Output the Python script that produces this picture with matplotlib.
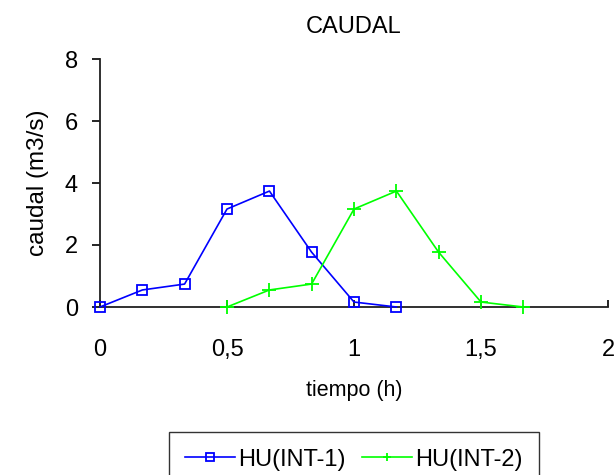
import matplotlib
matplotlib.use("Agg")
import matplotlib.pyplot as plt
from matplotlib.ticker import FuncFormatter

plt.rcParams['font.family'] = ['Liberation Sans', 'DejaVu Sans']

# Hydrograph ordinates (time in hours, flow in m3/s)
t_int1 = [0, 0.167, 0.333, 0.5, 0.667, 0.833, 1.0, 1.167]
q_int1 = [0.0, 0.55, 0.74, 3.16, 3.74, 1.77, 0.16, 0.0]
t_int2 = [0.5, 0.667, 0.833, 1.0, 1.167, 1.333, 1.5, 1.667]
q_int2 = [0.0, 0.55, 0.74, 3.16, 3.74, 1.77, 0.16, 0.0]

x_ticks = [0, 0.5, 1, 1.5, 2]
y_ticks = [0, 2, 4, 6, 8]

fig = plt.figure(figsize=(6.14, 4.75), dpi=100)
ax = fig.add_axes([100 / 614, 1 - 307 / 475, 508 / 614, 248 / 475])

ax.plot(t_int1, q_int1, color='#0000ff', lw=1.2, marker='s', markersize=7,
        markerfacecolor='none', markeredgecolor='#0000ff', markeredgewidth=1.3,
        label='HU(INT-1)', clip_on=False, zorder=3)
ax.plot(t_int2, q_int2, color='#00ff00', lw=1.2, marker='+', markersize=10,
        markeredgewidth=1.3, label='HU(INT-2)', clip_on=False, zorder=3)

ax.set_xlim(0, 2)
ax.set_ylim(0, 8)
ax.set_xticks(x_ticks)
ax.set_yticks(y_ticks)
ax.xaxis.set_major_formatter(FuncFormatter(lambda v, p: ('%g' % v).replace('.', ',')))

for side in ('top', 'right'):
    ax.spines[side].set_visible(False)
for side in ('left', 'bottom'):
    ax.spines[side].set_linewidth(1.3)
    ax.spines[side].set_color('#202020')

ax.tick_params(axis='y', direction='out', length=6, width=1.2, labelsize=17, pad=10)
ax.tick_params(axis='x', direction='in', length=5, width=1.2, labelsize=17, pad=23)

ax.set_title('CAUDAL', fontsize=17, pad=19)
ax.set_xlabel('tiempo (h)', fontsize=15.5, labelpad=14)
ax.set_ylabel('caudal (m3/s)', fontsize=17.5, labelpad=11)

leg = fig.legend(loc='upper center', bbox_to_anchor=(354 / 614, 1 - 432 / 475),
                 ncol=2, fontsize=17, frameon=True, fancybox=False,
                 edgecolor='black', handlelength=2.1, columnspacing=0.7,
                 borderpad=0.7, handletextpad=0.15, borderaxespad=0)
leg.get_frame().set_linewidth(1.0)
for h in leg.legend_handles:
    h.set_markersize(6)

fig.savefig('out.png', dpi=100, facecolor='white')
